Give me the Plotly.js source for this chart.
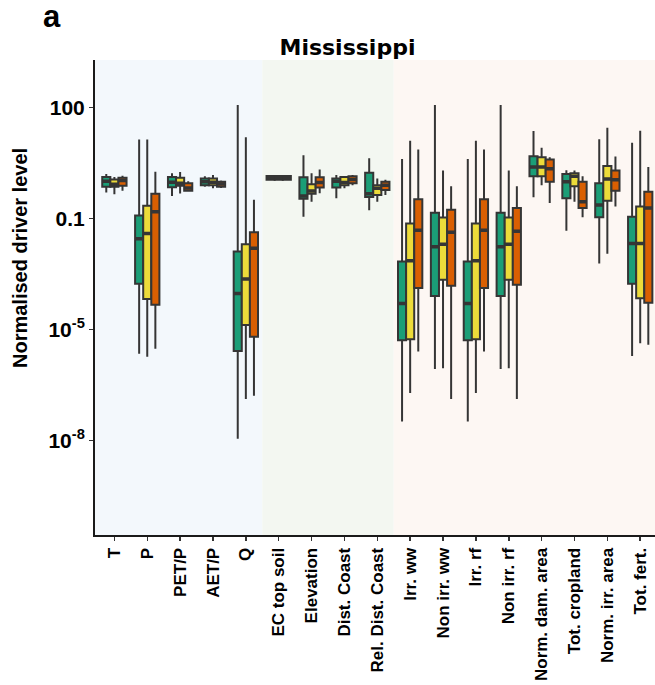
<!DOCTYPE html>
<html>
<head>
<meta charset="utf-8">
<script src="https://cdn.plot.ly/plotly-3.0.1.min.js"></script>
<style>html,body{margin:0;padding:0;background:#fff;}#chart{width:655px;height:685px;}</style>
</head>
<body>
<div id="chart"></div>
<script>
var categories = ['T','P','PET/P','AET/P','Q','EC top soil','Elevation','Dist. Coast','Rel. Dist. Coast','Irr. ww','Non irr. ww','Irr. rf','Non irr. rf','Norm. dam. area','Tot. cropland','Norm. irr. area','Tot. fert.'];

// Series 1 (green)
var greenLower  = [0.5, 2.2e-5, 0.4, 0.71, 1.1e-7, 1.1, 0.11, 0.35, 0.166, 3.2e-7, 8.5e-6, 3.2e-7, 8.5e-6, 0.37, 0.046, 6.0e-3, 1.9e-5];
var greenQ1     = [0.71, 1.7e-3, 0.69, 0.79, 2.6e-5, 1.1, 0.34, 0.68, 0.38, 5.1e-5, 7.9e-4, 5.1e-5, 7.9e-4, 1.38, 0.35, 0.107, 1.7e-3];
var greenMedian = [1.0, 2.8e-2, 0.95, 0.98, 9.3e-4, 1.26, 0.4, 1.0, 0.46, 5.0e-4, 1.7e-2, 5.0e-4, 1.7e-2, 2.45, 0.98, 0.23, 2.1e-2];
var greenQ3     = [1.32, 0.12, 1.32, 1.2, 1.26e-2, 1.4, 1.29, 1.2, 1.7, 6.8e-3, 0.141, 6.8e-3, 0.141, 4.8, 1.58, 0.89, 0.11];
var greenUpper  = [1.58, 13.6, 1.66, 1.38, 115, 1.4, 5.1, 1.48, 4.2, 4.0, 115, 4.0, 115, 22.9, 2.0, 13.8, 11.0];

// Series 2 (yellow)
var yellowLower  = [0.45, 1.8e-5, 0.47, 0.65, 1.3e-6, 1.1, 0.28, 0.65, 0.28, 1.9e-6, 8.9e-6, 1.9e-6, 8.9e-6, 0.79, 0.28, 1.1e-2, 4.2e-5];
var yellowQ1     = [0.71, 6.6e-4, 0.76, 0.79, 1.3e-4, 1.1, 0.46, 0.79, 0.43, 5.4e-5, 2.2e-3, 5.4e-5, 2.2e-3, 1.38, 0.74, 0.3, 6.9e-4];
var yellowMedian = [0.83, 3.9e-2, 0.89, 0.95, 2.3e-3, 1.26, 0.55, 0.93, 0.65, 7.1e-3, 2.0e-2, 7.1e-3, 2.0e-2, 2.45, 1.38, 1.15, 2.1e-2];
var yellowQ3     = [1.12, 0.22, 1.26, 1.2, 2.0e-2, 1.4, 0.83, 1.32, 0.79, 7.2e-2, 0.105, 7.2e-2, 0.105, 4.5, 1.66, 2.6, 0.21];
var yellowUpper  = [1.32, 13.6, 1.78, 1.48, 15.5, 1.4, 1.66, 1.38, 1.2, 12.6, 1.95, 12.6, 1.95, 8.1, 1.95, 28, 23.4];

// Series 3 (orange)
var orangeLower  = [0.56, 3.0e-5, 0.52, 0.66, 1.6e-6, 1.1, 0.48, 0.79, 0.43, 2.5e-5, 1.3e-6, 2.5e-5, 1.3e-6, 0.26, 0.107, 0.21, 3.8e-5];
var orangeQ1     = [0.76, 4.6e-4, 0.56, 0.71, 6.3e-5, 1.1, 0.68, 0.89, 0.58, 1.3e-3, 1.5e-3, 1.3e-3, 1.6e-3, 0.98, 0.19, 0.56, 5.2e-4];
var orangeMedian = [1.05, 0.15, 0.66, 0.85, 1.55e-2, 1.26, 0.93, 1.12, 0.79, 4.8e-2, 4.2e-2, 4.8e-2, 4.5e-2, 2.2, 0.28, 1.1, 0.19];
var orangeQ3     = [1.26, 0.46, 0.89, 0.98, 4.2e-2, 1.4, 1.29, 1.38, 0.98, 0.33, 0.17, 0.33, 0.19, 3.9, 0.98, 1.95, 0.52];
var orangeUpper  = [1.41, 1.82, 1.0, 1.05, 0.32, 1.4, 2.1, 1.48, 1.1, 7.2, 0.74, 7.2, 0.74, 4.5, 1.38, 4.7, 2.45];

// Tick marks as placed in the reference (equally spaced) and their printed labels
var yTickVals = [100, 0.1, 1e-4, 1e-7];
var yTickText = ['100', '0.1', '10<sup>-5</sup>', '10<sup>-8</sup>'];

var outline = '#353535';
function boxTrace(name, color, lo, q1, med, q3, up) {
  return {
    type: 'box', name: name, x: categories, offsetgroup: name, alignmentgroup: 'all',
    lowerfence: lo, q1: q1, median: med, q3: q3, upperfence: up,
    fillcolor: color, line: {color: outline, width: 2},
    whiskerwidth: 0, boxpoints: false, hoverinfo: 'skip', showlegend: false
  };
}
// thick median bar drawn as a zero-height box at the median value
function medianTrace(name, med) {
  return {
    type: 'box', name: name + 'm', x: categories, offsetgroup: name, alignmentgroup: 'all',
    lowerfence: med, q1: med, median: med, q3: med, upperfence: med,
    fillcolor: outline, line: {color: outline, width: 3.5},
    whiskerwidth: 0, boxpoints: false, hoverinfo: 'skip', showlegend: false
  };
}

var data = [
  boxTrace('s1', '#1B9E77', greenLower, greenQ1, greenMedian, greenQ3, greenUpper),
  boxTrace('s2', '#ECDB3A', yellowLower, yellowQ1, yellowMedian, yellowQ3, yellowUpper),
  boxTrace('s3', '#D95F02', orangeLower, orangeQ1, orangeMedian, orangeQ3, orangeUpper),
  medianTrace('s1', greenMedian),
  medianTrace('s2', yellowMedian),
  medianTrace('s3', orangeMedian)
];

var boldFont = {family: 'Liberation Sans, Arial, sans-serif', weight: 'bold', color: '#000'};

var layout = {
  width: 655, height: 685,
  margin: {l: 95, r: 0, t: 60, b: 150},
  paper_bgcolor: '#ffffff', plot_bgcolor: '#ffffff',
  boxmode: 'group', boxgap: 0.26, boxgroupgap: 0,
  showlegend: false,
  title: {
    text: 'Mississippi', xref: 'container', x: 0.5305, xanchor: 'center',
    yref: 'container', y: 1 - 47/685, yanchor: 'middle',
    font: {family: 'DejaVu Sans, Verdana, sans-serif', weight: 'bold', size: 22, color: '#000'}
  },
  xaxis: {
    type: 'category', categoryorder: 'array', categoryarray: categories,
    range: [-0.59, 16.45], fixedrange: true,
    showgrid: false, zeroline: false,
    showline: true, linecolor: '#1a1a1a', linewidth: 2,
    ticks: 'outside', ticklen: 4, tickwidth: 1.5, tickcolor: '#333',
    tickangle: -90,
    tickfont: Object.assign({size: 17}, boldFont)
  },
  yaxis: {
    type: 'log', range: [-9.56, 3.28], fixedrange: true,
    tickmode: 'array', tickvals: yTickVals, ticktext: yTickText,
    showgrid: false, zeroline: false,
    showline: true, linecolor: '#1a1a1a', linewidth: 2,
    ticks: 'outside', ticklen: 4, tickwidth: 1.5, tickcolor: '#333',
    tickfont: Object.assign({size: 21}, boldFont)
  },
  shapes: [
    {type: 'rect', layer: 'below', xref: 'x', yref: 'paper', x0: -0.59, x1: 4.5, y0: 0, y1: 1, fillcolor: '#F3F8FC', line: {width: 0}},
    {type: 'rect', layer: 'below', xref: 'x', yref: 'paper', x0: 4.5, x1: 8.5, y0: 0, y1: 1, fillcolor: '#F3F7F1', line: {width: 0}},
    {type: 'rect', layer: 'below', xref: 'x', yref: 'paper', x0: 8.5, x1: 16.45, y0: 0, y1: 1, fillcolor: '#FDF7F3', line: {width: 0}}
  ],
  annotations: [
    {text: 'Normalised driver level', textangle: -90, showarrow: false,
     xref: 'paper', yref: 'paper', x: (20 - 95) / 560, y: (535 - 258) / 475,
     xanchor: 'center', yanchor: 'middle',
     font: Object.assign({size: 20}, boldFont)},
    {text: 'a', showarrow: false, xref: 'paper', yref: 'paper',
     x: (52 - 95) / 560, y: (535 - 17) / 475, xanchor: 'center', yanchor: 'middle',
     font: Object.assign({size: 31}, boldFont)}
  ]
};

Plotly.newPlot('chart', data, layout, {displayModeBar: false, staticPlot: true});
</script>
</body>
</html>
